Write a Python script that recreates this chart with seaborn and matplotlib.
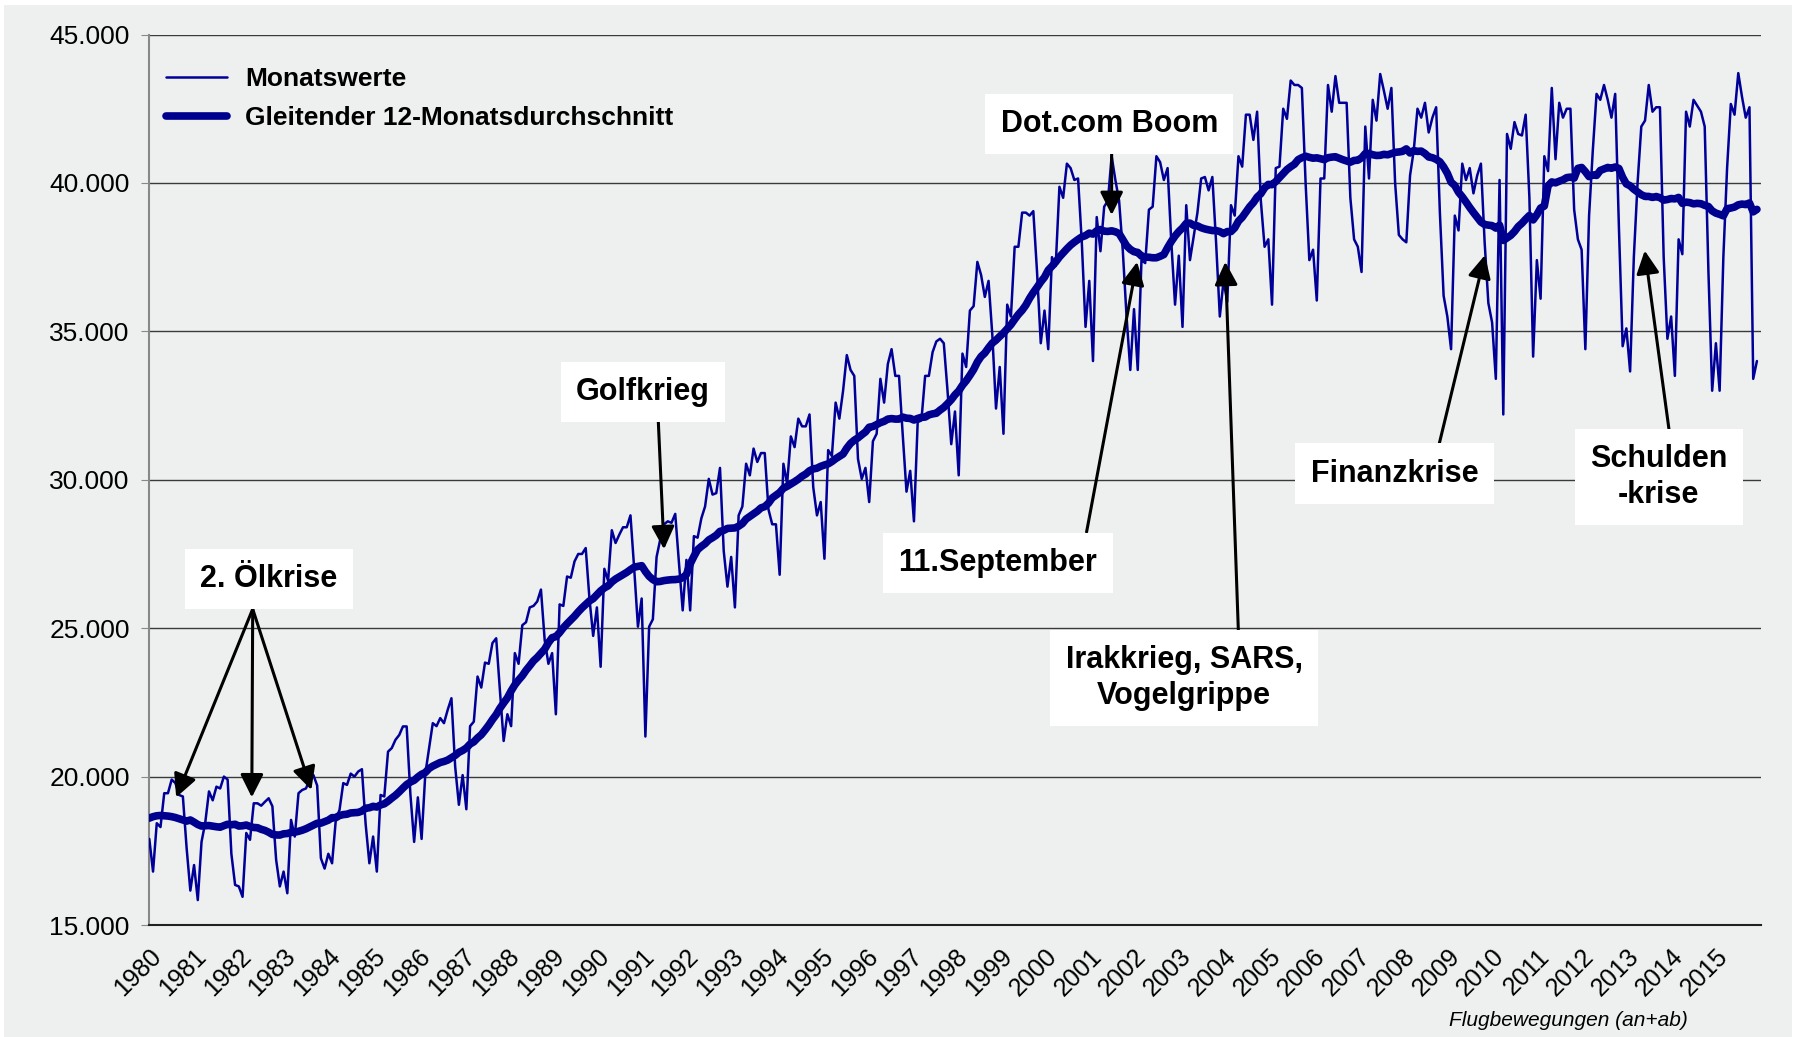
import numpy as np
import pandas as pd
import seaborn as sns
import matplotlib.pyplot as plt
from matplotlib.patches import Rectangle

# monthly movements (Jan..Dec)
m1980 = [17900, 16800, 18430, 18300, 19440, 19440, 19900, 19780, 19380, 19330, 17600, 16160]
m1981 = [17020, 15840, 17800, 18450, 19500, 19200, 19660, 19600, 20000, 19900, 17400, 16350]
m1982 = [16300, 15950, 18100, 17870, 19100, 19100, 19020, 19150, 19270, 19000, 17200, 16300]
m1983 = [16800, 16070, 18540, 17980, 19440, 19550, 19600, 19900, 20050, 19700, 17250, 16900]
m1984 = [17400, 17080, 18540, 18880, 19780, 19720, 20100, 20000, 20170, 20250, 18400, 17080]
m1985 = [17980, 16800, 19380, 19330, 20840, 20960, 21240, 21400, 21690, 21690, 19400, 17800]
m1986 = [19300, 17900, 20100, 20960, 21800, 21700, 21970, 21800, 22250, 22640, 20340, 19050]
m1987 = [20050, 18900, 21700, 21850, 23370, 23000, 23840, 23800, 24500, 24660, 22900, 21200]
m1988 = [22100, 21700, 24160, 23800, 25100, 25200, 25700, 25750, 25900, 26300, 24600, 23800]
m1989 = [24160, 22100, 25800, 25750, 26740, 26700, 27250, 27500, 27500, 27700, 26000, 24740]
m1990 = [25700, 23700, 27000, 26600, 28300, 27870, 28150, 28400, 28400, 28800, 27000, 25050]
m1991 = [26000, 21350, 25050, 25300, 27400, 28000, 28500, 28600, 28550, 28850, 27200, 25600]
m1992 = [27300, 25600, 28100, 28050, 28700, 29100, 30030, 29500, 29550, 30400, 27600, 26400]
m1993 = [27400, 25700, 28800, 29100, 30540, 30150, 31050, 30600, 30900, 30900, 29000, 28500]
m1994 = [28500, 26800, 30540, 29870, 31460, 31100, 32060, 31800, 31800, 32200, 29750, 28800]
m1995 = [29250, 27340, 31000, 30800, 32600, 32060, 33000, 34200, 33700, 33500, 30700, 30030]
m1996 = [30400, 29250, 31300, 31550, 33400, 32600, 33900, 34400, 33500, 33500, 31500, 29600]
m1997 = [30300, 28600, 31940, 32000, 33500, 33500, 34300, 34660, 34750, 34600, 33000, 31200]
m1998 = [32300, 30150, 34250, 33800, 35700, 35850, 37340, 36900, 36160, 36700, 34900, 32400]
m1999 = [33800, 31550, 35900, 35500, 37850, 37850, 39000, 39000, 38900, 39050, 37000, 34600]
m2000 = [35700, 34400, 37500, 37200, 39870, 39500, 40650, 40500, 40100, 40150, 38000, 35150]
m2001 = [36700, 34000, 38850, 37700, 39200, 39400, 40900, 40100, 39400, 37700, 35500, 33700]
m2002 = [35750, 33700, 37400, 37300, 39100, 39200, 40900, 40700, 40100, 40500, 38000, 35900]
m2003 = [37550, 35150, 39250, 37400, 38200, 39000, 40150, 40200, 39750, 40200, 38000, 35500]
m2004 = [36700, 36000, 39250, 38900, 40900, 40550, 42300, 42300, 41450, 42400, 39400, 37850]
m2005 = [38100, 35900, 40500, 40550, 42500, 42160, 43450, 43300, 43300, 43200, 40000, 37400]
m2006 = [37750, 36040, 40150, 40150, 43300, 42400, 43600, 42700, 42700, 42700, 39500, 38100]
m2007 = [37850, 37000, 41900, 40150, 42800, 42100, 43670, 43100, 42500, 43200, 40000, 38250]
m2008 = [38100, 38000, 40250, 41100, 42500, 42200, 42700, 41700, 42200, 42550, 39000, 36200]
m2009 = [35500, 34400, 38900, 38400, 40650, 40100, 40500, 39650, 40250, 40650, 38000, 35950]
m2010 = [35300, 33400, 40100, 32200, 41650, 41150, 42050, 41650, 41600, 42300, 39500, 34150]
m2011 = [37400, 36100, 40900, 40400, 43200, 40800, 42700, 42200, 42500, 42500, 39100, 38100]
m2012 = [37750, 34400, 38900, 41100, 43000, 42800, 43300, 42800, 42200, 43000, 38500, 34500]
m2013 = [35100, 33650, 37500, 40000, 41900, 42100, 43300, 42400, 42550, 42550, 37500, 34750]
m2014 = [35500, 33500, 38100, 37600, 42400, 41900, 42800, 42600, 42400, 41900, 37000, 33000]
m2015 = [34600, 33000, 37500, 40500, 42660, 42300, 43700, 42900, 42200, 42550, 33400, 34000]

# moving average Jan-Nov 1980 as drawn (window reaches back into 1979)
ma_1980_read = [18600, 18650, 18680, 18690, 18680, 18670, 18650, 18620, 18580, 18540, 18500]

year_labels = [str(y) for y in range(1980, 2016)]
y_ticks = [15000, 20000, 25000, 30000, 35000, 40000, 45000]

monthly = (m1980 + m1981 + m1982 + m1983 + m1984 + m1985 + m1986 + m1987 + m1988
           + m1989 + m1990 + m1991 + m1992 + m1993 + m1994 + m1995 + m1996 + m1997
           + m1998 + m1999 + m2000 + m2001 + m2002 + m2003 + m2004 + m2005 + m2006
           + m2007 + m2008 + m2009 + m2010 + m2011 + m2012 + m2013 + m2014 + m2015)

df = pd.DataFrame({"jahr": 1980 + np.arange(len(monthly)) / 12, "monat": monthly})
df["gleitend"] = df["monat"].rolling(12).mean()
df.loc[:10, "gleitend"] = ma_1980_read

sns.set_style("whitegrid", {"axes.facecolor": "#eef0f0", "grid.color": "#3a3a3a",
                            "text.color": "black", "xtick.color": "black",
                            "ytick.color": "black"})
plt.rcParams["font.family"] = ["Liberation Sans", "DejaVu Sans"]

BG = "#eef0f0"
BLUE = "#000099"

fig = plt.figure(figsize=(18.01, 10.37), dpi=100, facecolor="white")
fig.patches.append(Rectangle((0.002, 0), 0.993, 0.995, transform=fig.transFigure,
                             facecolor=BG, edgecolor="none", zorder=-10))
ax = fig.add_axes([0.0829, 0.108, 0.8947, 0.8587])
ax.set_facecolor(BG)

sns.lineplot(data=df, x="jahr", y="monat", color=BLUE, lw=1.8, ax=ax,
             label="Monatswerte", zorder=3)
sns.lineplot(data=df, x="jahr", y="gleitend", color="#00008f", lw=5.5, ax=ax,
             label="Gleitender 12-Monatsdurchschnitt", zorder=4)

ax.set_xlim(1980, 2016)
ax.set_ylim(15000, 45000)
ax.set_yticks(y_ticks)
ax.set_yticklabels([f"{v:,.0f}".replace(",", ".") for v in y_ticks], fontsize=19)
ax.set_xticks(range(1980, 2016))
ax.set_xticklabels(year_labels, rotation=45, ha="right", rotation_mode="anchor", fontsize=18)
ax.set_xlabel("")
ax.set_ylabel("")
ax.xaxis.grid(False)
ax.yaxis.grid(True, color="#3a3a3a", lw=1.0)
ax.tick_params(axis="y", length=6, color="#888888", labelcolor="black", pad=8, left=True)
ax.tick_params(axis="x", length=0, pad=14, labelcolor="black")
for s in ["top", "right"]:
    ax.spines[s].set_visible(False)
ax.spines["left"].set_color("#888888")
ax.spines["left"].set_linewidth(1.5)
ax.spines["bottom"].set_color("#222222")
ax.spines["bottom"].set_linewidth(1.5)

leg = ax.legend(loc="upper left", bbox_to_anchor=(0.004, 0.975), frameon=False,
                prop={"weight": "bold", "size": 19}, handlelength=2.3,
                handletextpad=0.7, labelspacing=0.55, borderaxespad=0)
for t in leg.get_texts():
    t.set_color("black")

# annotations: text boxes and arrows
boxes = [
    ("2. Ölkrise", 1982.67, 26650),
    ("Golfkrieg", 1991.03, 32960),
    ("Dot.com Boom", 2001.45, 41980),
    ("11.September", 1998.96, 27190),
    ("Irakkrieg, SARS,\nVogelgrippe", 2003.12, 23320),
    ("Finanzkrise", 2007.82, 30210),
    ("Schulden\n-krise", 2013.72, 30100),
]
for txt, x, y in boxes:
    ax.text(x, y, txt, ha="center", va="center", fontsize=22, fontweight="bold",
            color="black", linespacing=1.25, zorder=6,
            bbox=dict(boxstyle="square,pad=0.5", facecolor="white", edgecolor="none"))

arrows = [
    ((1982.31, 25645), (1980.60, 19300)),
    ((1982.31, 25645), (1982.29, 19300)),
    ((1982.31, 25645), (1983.62, 19550)),
    ((1991.37, 32030), (1991.50, 27660)),
    ((2001.50, 41010), (2001.50, 38920)),
    ((2000.94, 28240), (2002.07, 37340)),
    ((2004.33, 24950), (2004.04, 37340)),
    ((2008.82, 31220), (2009.84, 37570)),
    ((2013.95, 31720), (2013.41, 37720)),
]
for tail, tip in arrows:
    ax.annotate("", xy=tip, xytext=tail, zorder=5,
                arrowprops=dict(arrowstyle="-|>,head_length=0.7,head_width=0.35",
                                color="black", lw=2.2, shrinkA=0, shrinkB=0,
                                mutation_scale=20))

fig.text(0.871, 0.0155, "Flugbewegungen (an+ab)", ha="center", va="center",
         fontsize=15, style="italic", color="black")

fig.savefig("out.png", dpi=100, facecolor=fig.get_facecolor())
